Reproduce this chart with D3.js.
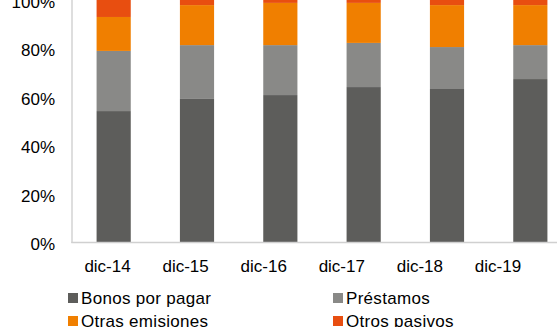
<!DOCTYPE html>
<html>
<head>
<meta charset="utf-8">
<script src="https://cdn.jsdelivr.net/npm/d3@7/dist/d3.min.js"></script>
<style>
  html, body { margin: 0; padding: 0; background: #fff; }
  svg { display: block; font-family: "Liberation Sans", Arial, sans-serif; }
</style>
</head>
<body>
<svg id="chart" width="557" height="327"></svg>
<script>
// Composición de pasivos (% del total)
const categories = ["dic-14", "dic-15", "dic-16", "dic-17", "dic-18", "dic-19"];
const seriesNames = ["Bonos por pagar", "Préstamos", "Otras emisiones", "Otros pasivos"];
const bonos     = [54.2, 59.2, 60.8, 64.1, 63.3, 67.4];
const prestamos = [24.8, 22.2, 20.6, 18.2, 17.3, 14.0];
const otrasEmis = [14.0, 16.5, 17.4, 16.5, 17.3, 16.5];
const otrosPas  = [ 7.0,  2.1,  1.2,  1.2,  2.1,  2.1];
const yTicks = [0, 20, 40, 60, 80, 100];

const colors = ["#5d5d5b", "#898987", "#f07f00", "#e84e10"];
const seriesValues = [bonos, prestamos, otrasEmis, otrosPas];

const svg = d3.select("#chart");
const plot = { left: 72, right: 572, top: 0, bottom: 242.5 };

const rows = categories.map((c, i) => {
  const r = { cat: c };
  seriesNames.forEach((s, j) => { r[s] = seriesValues[j][i]; });
  return r;
});
const stacked = d3.stack().keys(seriesNames)(rows);

const x = d3.scaleBand().domain(categories).range([plot.left, plot.right]).paddingInner(0.59).paddingOuter(0.295);
const xLabel = d3.scaleBand().domain(categories).range([68.5, 537]);
const y = d3.scaleLinear().domain([0, 100]).range([plot.bottom, plot.top]);

// bars
svg.append("g").selectAll("g").data(stacked).join("g")
  .attr("fill", (d, i) => colors[i])
  .selectAll("rect").data(d => d).join("rect")
  .attr("x", d => x(d.data.cat))
  .attr("width", x.bandwidth())
  .attr("y", d => y(d[1]))
  .attr("height", d => y(d[0]) - y(d[1]));

// axis lines
svg.append("line").attr("x1", plot.left).attr("x2", plot.left)
  .attr("y1", 0).attr("y2", plot.bottom + 0.5)
  .attr("stroke", "#d0d0d0").attr("stroke-width", 1.4);
svg.append("line").attr("x1", plot.left - 0.7).attr("x2", 557)
  .attr("y1", plot.bottom).attr("y2", plot.bottom)
  .attr("stroke", "#d0d0d0").attr("stroke-width", 1.4);

// y tick labels
svg.append("g").selectAll("text").data(yTicks).join("text")
  .attr("x", 55).attr("y", d => y(d)).attr("dy", "0.45em")
  .attr("text-anchor", "end").attr("font-size", 17).attr("fill", "#000")
  .text(d => d + "%");

// x tick labels
svg.append("g").selectAll("text").data(categories).join("text")
  .attr("x", d => xLabel(d) + xLabel.bandwidth() / 2).attr("y", 272)
  .attr("text-anchor", "middle").attr("font-size", 17).attr("fill", "#000")
  .text(d => d);

// legend
const legendPos = [[68, 293], [333, 293], [68, 316], [333, 316]];
const leg = svg.append("g").selectAll("g").data(seriesNames).join("g")
  .attr("transform", (d, i) => `translate(${legendPos[i][0]},${legendPos[i][1]})`);
leg.append("rect").attr("width", 10).attr("height", 10).attr("fill", (d, i) => colors[i]);
leg.append("text").attr("x", 13).attr("y", 11).attr("font-size", 17)
  .attr("letter-spacing", 0.3).attr("fill", "#000").text(d => d);
</script>
</body>
</html>
